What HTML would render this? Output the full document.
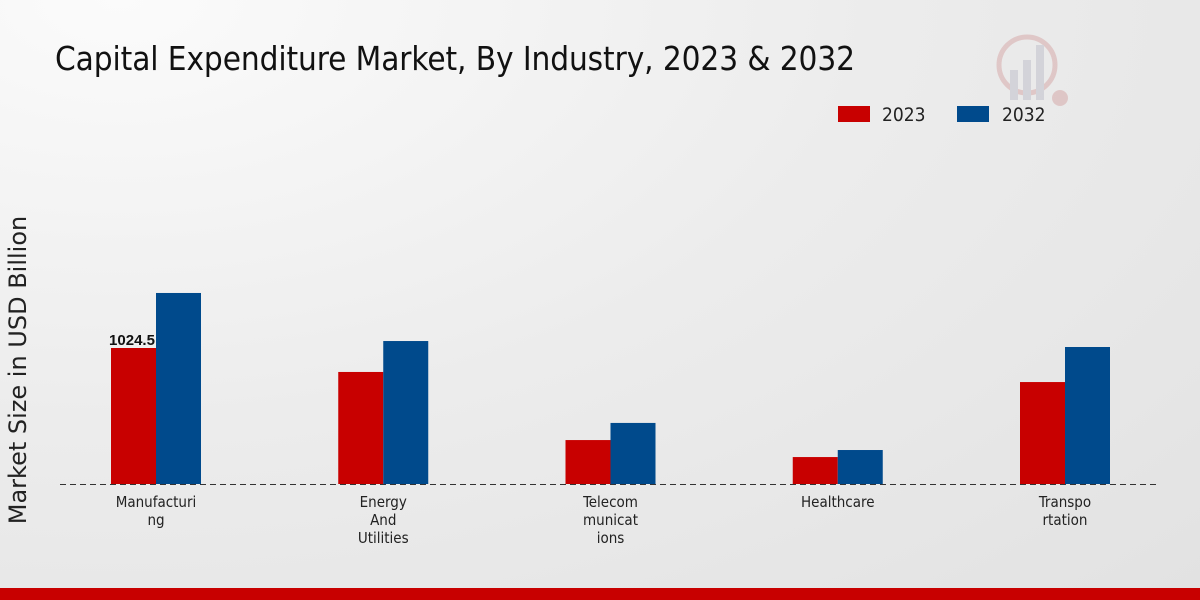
<!DOCTYPE html>
<html><head><meta charset="utf-8"><style>
body{margin:0;width:1200px;height:600px;overflow:hidden;font-family:"Liberation Sans",sans-serif;}
#c{position:relative;width:1200px;height:600px;background:radial-gradient(ellipse at 10% 0%,#fbfbfb 0%,#ececec 50%,#e2e2e2 100%);}
</style></head><body>
<div id="c">
<svg id="s" width="1200" height="600" style="position:absolute;left:0;top:0">
<text x="55" y="70" font-size="33" fill="#111" font-family="DejaVu Sans Condensed, Liberation Sans Narrow, sans-serif" textLength="800">Capital Expenditure Market, By Industry, 2023 &amp; 2032</text>
<g>
<rect x="838" y="106" width="32" height="16" fill="#c80000"/>
<text x="882" y="121" font-size="19" fill="#222" font-family="DejaVu Sans Condensed, sans-serif">2023</text>
<rect x="957" y="106" width="32" height="16" fill="#004a8c"/>
<text x="1002" y="121" font-size="19" fill="#222" font-family="DejaVu Sans Condensed, sans-serif">2032</text>
</g>
<text transform="translate(26,370) rotate(-90)" text-anchor="middle" font-size="24" fill="#222" font-family="DejaVu Sans, sans-serif">Market Size in USD Billion</text>
<line x1="60" y1="484.5" x2="1160" y2="484.5" stroke="#333" stroke-dasharray="6,4"/>
<g id="bars"></g>
<g opacity="0.35">
<circle cx="1027" cy="65" r="28" fill="none" stroke="#c88" stroke-width="5"/>
<rect x="1010" y="70" width="8" height="30" fill="#aab"/><rect x="1023" y="60" width="8" height="40" fill="#aab"/><rect x="1036" y="45" width="8" height="55" fill="#aab"/>
<circle cx="1060" cy="98" r="8" fill="#c88"/>
</g>
<rect x="0" y="588" width="1200" height="12" fill="#c80000"/>
</svg>
</div>
<script>
const categories=[["Manufacturi","ng"],["Energy","And","Utilities"],["Telecom","municat","ions"],["Healthcare"],["Transpo","rtation"]];
const values2023=[1024.5,844,331,203,768];
const values2032=[1439,1077,460,256,1032];
const shownLabels=["1024.5",null,null,null,null];
const NS="http://www.w3.org/2000/svg";
const g=document.getElementById('bars');
const base=484, pxPer=136/1024.5, x0=156, step=227.25, bw=45;
function y(v){return base-v*pxPer;}
function xc(i){return x0+i*step;}
function mk(t,a){const e=document.createElementNS(NS,t);for(const k in a)e.setAttribute(k,a[k]);g.appendChild(e);return e;}
categories.forEach((c,i)=>{
 const r1=mk('rect',{x:xc(i)-bw,y:y(values2023[i]),width:bw,height:base-y(values2023[i]),fill:'#c80000'});
 
 
 const r2=mk('rect',{x:xc(i),y:y(values2032[i]),width:bw,height:base-y(values2032[i]),fill:'#004a8c'});
 
 
 if(shownLabels[i]){const t=mk('text',{x:xc(i)-24,y:y(values2023[i])-3,'text-anchor':'middle','font-size':15,'font-weight':'bold',fill:'#111'});t.textContent=shownLabels[i];
 
 }
 c.forEach((ln,j)=>{const t=mk('text',{x:xc(i),y:507+j*18,'text-anchor':'middle','font-size':15,fill:'#222','font-family':'DejaVu Sans Condensed, sans-serif'});t.textContent=ln;
 
 });
});
</script>
</body></html>
